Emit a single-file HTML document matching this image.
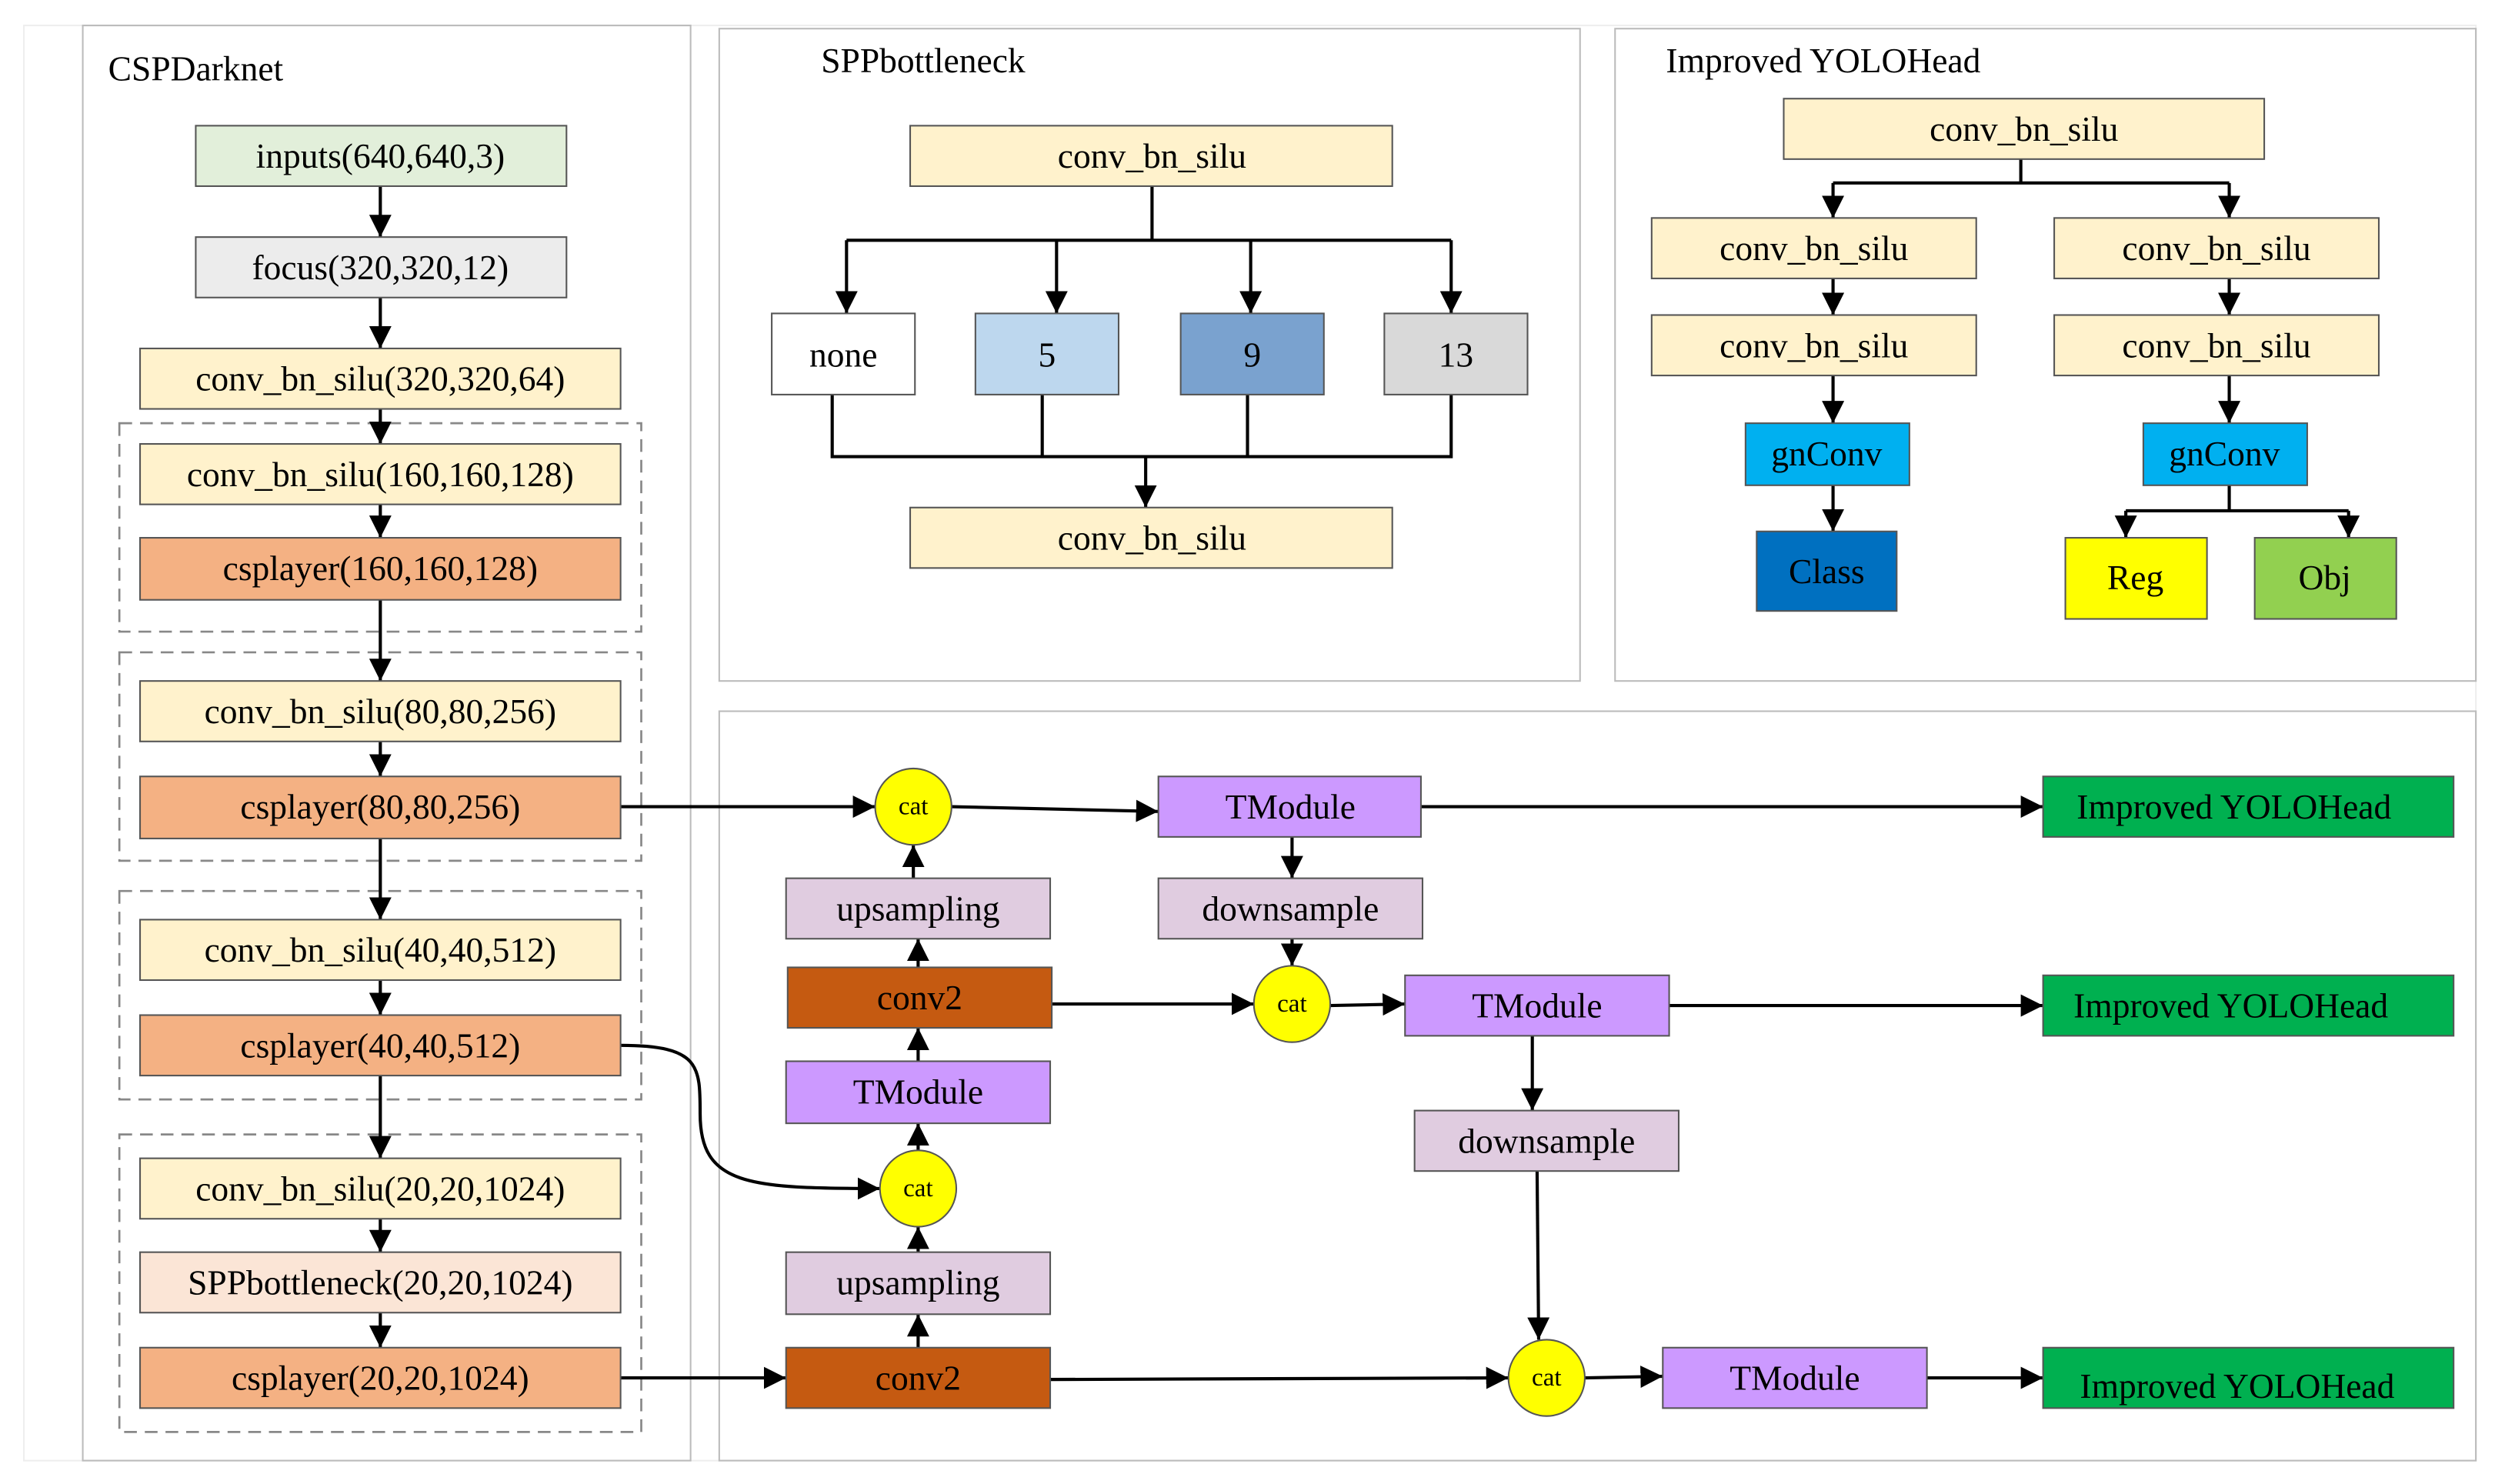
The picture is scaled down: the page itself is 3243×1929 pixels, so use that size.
<!DOCTYPE html>
<html><head><meta charset="utf-8"><style>
html,body{margin:0;padding:0;background:#fff}
svg{display:block}
text{font-family:"Liberation Serif",serif;font-size:22px;fill:#000;text-anchor:middle;dominant-baseline:central}
.t{text-anchor:start;font-size:22px}
.c{font-size:16px}
</style></head><body>
<svg width="3243" height="1929" viewBox="0 0 1568 932.7" xmlns="http://www.w3.org/2000/svg">
<defs><marker id="a" viewBox="0 0 10 10" refX="10" refY="5" markerWidth="6" markerHeight="6" markerUnits="userSpaceOnUse" orient="auto"><path d="M0,0L10,5L0,10z" fill="#000"/></marker>
<marker id="b" viewBox="0 0 10 10" refX="10" refY="5" markerWidth="14" markerHeight="14" markerUnits="userSpaceOnUse" orient="auto"><path d="M0,0L10,5L0,10z" fill="#000"/></marker></defs>
<g fill="none" stroke="#bbb" stroke-width="1">
<rect x="15" y="16" width="1541" height="902" stroke="#eee"/>
<rect x="52" y="16" width="382" height="902"/>
<rect x="452" y="18" width="541" height="410"/>
<rect x="1015" y="18" width="541" height="410"/>
<rect x="452" y="447" width="1104" height="471"/>
</g>
<text class="t" x="68" y="43">CSPDarknet</text>
<text class="t" x="516" y="38">SPPbottleneck</text>
<text class="t" x="1047" y="38">Improved YOLOHead</text>
<g fill="none" stroke="#888" stroke-width="1.3" stroke-dasharray="8,5">
<rect x="75" y="266" width="328" height="131"/>
<rect x="75" y="410" width="328" height="131"/>
<rect x="75" y="560" width="328" height="131"/>
<rect x="75" y="713" width="328" height="187"/>
</g>
<g stroke="#000" stroke-width="2" fill="none" marker-end="url(#b)">
<path d="M239 117V149"/><path d="M239 187V219"/><path d="M239 257V279"/><path d="M239 317V338"/>
<path d="M239 377V428"/><path d="M239 466V488"/><path d="M239 527V578"/><path d="M239 616V638"/>
<path d="M239 676V728"/><path d="M239 766V787"/><path d="M239 825V847"/>
<path d="M532 151V197"/><path d="M664 151V197"/><path d="M786 151V197"/><path d="M912 151V197"/>
<path d="M720 287V319"/>
<path d="M1152 115V137"/><path d="M1401 115V137"/><path d="M1152 175V198"/><path d="M1401 175V198"/>
<path d="M1152 236V266"/><path d="M1401 236V266"/><path d="M1152 305V334"/>
<path d="M1336 321V338"/><path d="M1476 321V338"/>
<path d="M390 507H550"/><path d="M598 507L728 510"/><path d="M893 507H1284"/>
<path d="M812 526V552"/><path d="M812 590V607"/><path d="M661 631H788"/><path d="M836 632L883 631"/>
<path d="M1049 632H1284"/><path d="M963 651V698"/><path d="M966 736L967 842"/>
<path d="M660 867L948 866"/><path d="M996 866L1045 865"/><path d="M1211 866H1284"/>
<path d="M577 847V826"/><path d="M577 787V771"/><path d="M577 723V706"/><path d="M577 667V646"/>
<path d="M577 608V590"/><path d="M574 552V531"/>
<path d="M390 657C440 657 440 670 440 700C440 745 470 747 553 747"/>
<path d="M390 866H494"/>
</g>
<g stroke="#000" stroke-width="2" fill="none">
<path d="M724 117V151M532 151H912"/>
<path d="M523 248V287H912V248M655 248V287M784 248V287"/>
<path d="M1270 100V115M1152 115H1401"/>
<path d="M1401 305V321M1336 321H1476"/>
</g>
<g stroke="#555" stroke-width="1">
<rect x="123" y="79" width="233" height="38" fill="#e2efda"/>
<rect x="123" y="149" width="233" height="38" fill="#ececec"/>
<rect x="88" y="219" width="302" height="38" fill="#fff2cc"/>
<rect x="88" y="279" width="302" height="38" fill="#fff2cc"/>
<rect x="88" y="338" width="302" height="39" fill="#f4b183"/>
<rect x="88" y="428" width="302" height="38" fill="#fff2cc"/>
<rect x="88" y="488" width="302" height="39" fill="#f4b183"/>
<rect x="88" y="578" width="302" height="38" fill="#fff2cc"/>
<rect x="88" y="638" width="302" height="38" fill="#f4b183"/>
<rect x="88" y="728" width="302" height="38" fill="#fff2cc"/>
<rect x="88" y="787" width="302" height="38" fill="#fbe5d6"/>
<rect x="88" y="847" width="302" height="38" fill="#f4b183"/>
<rect x="572" y="79" width="303" height="38" fill="#fff2cc"/>
<rect x="485" y="197" width="90" height="51" fill="#fff"/>
<rect x="613" y="197" width="90" height="51" fill="#bdd7ee"/>
<rect x="742" y="197" width="90" height="51" fill="#7aa2cf"/>
<rect x="870" y="197" width="90" height="51" fill="#d9d9d9"/>
<rect x="572" y="319" width="303" height="38" fill="#fff2cc"/>
<rect x="1121" y="62" width="302" height="38" fill="#fff2cc"/>
<rect x="1038" y="137" width="204" height="38" fill="#fff2cc"/>
<rect x="1038" y="198" width="204" height="38" fill="#fff2cc"/>
<rect x="1291" y="137" width="204" height="38" fill="#fff2cc"/>
<rect x="1291" y="198" width="204" height="38" fill="#fff2cc"/>
<rect x="1097" y="266" width="103" height="39" fill="#00b0f0"/>
<rect x="1347" y="266" width="103" height="39" fill="#00b0f0"/>
<rect x="1104" y="334" width="88" height="50" fill="#0070c0"/>
<rect x="1298" y="338" width="89" height="51" fill="#ffff00"/>
<rect x="1417" y="338" width="89" height="51" fill="#92d050"/>
<rect x="728" y="488" width="165" height="38" fill="#cc99ff"/>
<rect x="1284" y="488" width="258" height="38" fill="#00b050"/>
<rect x="494" y="552" width="166" height="38" fill="#e0cce0"/>
<rect x="495" y="608" width="166" height="38" fill="#c55a11"/>
<rect x="494" y="667" width="166" height="39" fill="#cc99ff"/>
<rect x="494" y="787" width="166" height="39" fill="#e0cce0"/>
<rect x="494" y="847" width="166" height="38" fill="#c55a11"/>
<rect x="728" y="552" width="166" height="38" fill="#e0cce0"/>
<rect x="883" y="613" width="166" height="38" fill="#cc99ff"/>
<rect x="1284" y="613" width="258" height="38" fill="#00b050"/>
<rect x="889" y="698" width="166" height="38" fill="#e0cce0"/>
<rect x="1045" y="847" width="166" height="38" fill="#cc99ff"/>
<rect x="1284" y="847" width="258" height="38" fill="#00b050"/>
<circle cx="574" cy="507" r="24" fill="#ffff00"/>
<circle cx="577" cy="747" r="24" fill="#ffff00"/>
<circle cx="812" cy="631" r="24" fill="#ffff00"/>
<circle cx="972" cy="866" r="24" fill="#ffff00"/>
</g>
<g>
<text x="239" y="98">inputs(640,640,3)</text>
<text x="239" y="168">focus(320,320,12)</text>
<text x="239" y="238">conv_bn_silu(320,320,64)</text>
<text x="239" y="298">conv_bn_silu(160,160,128)</text>
<text x="239" y="357">csplayer(160,160,128)</text>
<text x="239" y="447">conv_bn_silu(80,80,256)</text>
<text x="239" y="507">csplayer(80,80,256)</text>
<text x="239" y="597">conv_bn_silu(40,40,512)</text>
<text x="239" y="657">csplayer(40,40,512)</text>
<text x="239" y="747">conv_bn_silu(20,20,1024)</text>
<text x="239" y="806">SPPbottleneck(20,20,1024)</text>
<text x="239" y="866">csplayer(20,20,1024)</text>
<text x="724" y="98">conv_bn_silu</text>
<text x="530" y="223">none</text>
<text x="658" y="223">5</text>
<text x="787" y="223">9</text>
<text x="915" y="223">13</text>
<text x="724" y="338">conv_bn_silu</text>
<text x="1272" y="81">conv_bn_silu</text>
<text x="1140" y="156">conv_bn_silu</text>
<text x="1140" y="217">conv_bn_silu</text>
<text x="1393" y="156">conv_bn_silu</text>
<text x="1393" y="217">conv_bn_silu</text>
<text x="1148" y="285">gnConv</text>
<text x="1398" y="285">gnConv</text>
<text x="1148" y="359">Class</text>
<text x="1342" y="363">Reg</text>
<text x="1461" y="363">Obj</text>
<text x="811" y="507">TModule</text>
<text x="1404" y="507">Improved YOLOHead</text>
<text x="577" y="571">upsampling</text>
<text x="578" y="627">conv2</text>
<text x="577" y="686">TModule</text>
<text x="577" y="806">upsampling</text>
<text x="577" y="866">conv2</text>
<text x="811" y="571">downsample</text>
<text x="966" y="632">TModule</text>
<text x="1402" y="632">Improved YOLOHead</text>
<text x="972" y="717">downsample</text>
<text x="1128" y="866">TModule</text>
<text x="1406" y="871">Improved YOLOHead</text>
<text class="c" x="574" y="507">cat</text>
<text class="c" x="577" y="747">cat</text>
<text class="c" x="812" y="631">cat</text>
<text class="c" x="972" y="866">cat</text>
</g>
</svg>
</body></html>
